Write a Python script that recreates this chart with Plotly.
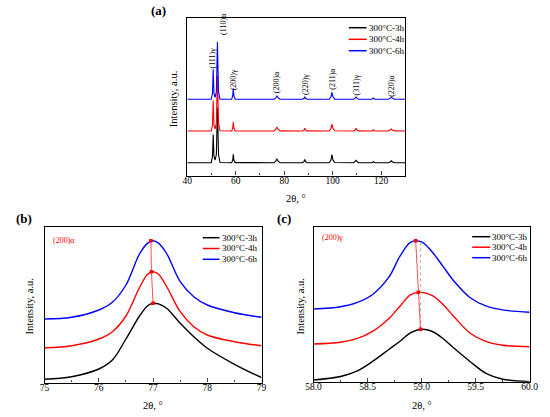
import plotly.graph_objects as go

W, H = 550, 417
FONT = "Liberation Serif, Times New Roman, serif"

# ---------------- Data: panel (a) full XRD patterns ----------------
series_names = ["300\u00b0C-3h", "300\u00b0C-4h", "300\u00b0C-6h"]
series_colors = ["#000000", "#ff0000", "#0000ff"]

tt_a = [40.0, 49.9, 50.4, 50.7, 51.0, 51.5, 52.0, 52.45, 52.9, 53.5,
        58.3, 58.75, 59.0, 59.25, 59.8, 75.8, 76.5, 77.0, 77.5, 78.3,
        87.6, 88.2, 88.5, 88.8, 89.4, 98.6, 99.3, 99.7, 100.1, 100.9,
        108.7, 109.3, 109.7, 110.1, 110.8, 116.2, 116.8, 117.4,
        123.1, 123.8, 124.2, 124.6, 125.4, 130.0]
a_3h = [12.8, 12.8, 19.0, 41.0, 19.5, 15.5, 21.0, 68.0, 21.0, 13.0,
        12.8, 15.2, 21.1, 15.2, 12.9, 12.8, 14.3, 16.4, 14.4, 12.9,
        12.8, 14.0, 16.1, 14.0, 12.9, 12.8, 15.4, 20.8, 15.6, 13.0,
        12.8, 13.8, 15.1, 13.8, 12.9, 12.8, 13.8, 12.8,
        12.8, 13.8, 14.8, 13.8, 12.9, 12.8]
a_4h = [44.5, 44.5, 50.5, 75.0, 50.5, 46.5, 52.5, 100.0, 52.5, 44.7,
        44.5, 47.2, 53.5, 47.2, 44.6, 44.5, 46.0, 48.5, 46.0, 44.6,
        44.5, 45.5, 47.2, 45.5, 44.6, 44.5, 46.9, 51.5, 47.1, 44.7,
        44.5, 45.5, 47.2, 45.5, 44.6, 44.5, 45.5, 44.5,
        44.5, 45.4, 46.5, 45.4, 44.6, 44.5]
a_6h = [76.2, 76.2, 82.0, 106.2, 82.0, 78.0, 84.0, 133.5, 84.0, 76.4,
        76.2, 79.5, 87.2, 79.5, 76.3, 76.2, 77.6, 79.8, 77.6, 76.3,
        76.2, 77.2, 78.8, 77.2, 76.3, 76.2, 78.6, 83.2, 78.8, 76.4,
        76.2, 77.1, 78.5, 77.1, 76.3, 76.2, 77.5, 76.2,
        76.2, 77.4, 78.5, 77.4, 76.3, 76.2]

peak_labels = ["(111)\u03b3", "(110)\u03b1", "(200)\u03b3", "(200)\u03b1",
               "(220)\u03b3", "(211)\u03b1", "(311)\u03b3", "(220)\u03b1"]
peak_label_x = [50.0, 54.7, 59.2, 76.9, 88.8, 99.6, 109.8, 124.0]
peak_label_y = [117.5, 151.5, 96.0, 93.0, 91.0, 96.5, 90.5, 89.5]

# ---------------- Data: panel (b) (200)alpha ----------------
tt_b = [75.0, 75.5, 76.0, 76.25, 76.5, 76.75, 76.9, 77.0, 77.1, 77.25, 77.5, 77.75, 78.0, 78.5, 79.0]
b_3h = [3.2, 5.8, 13.5, 22.5, 43.5, 66.5, 76.8, 79.2, 78.6, 74.2, 59.2, 45.8, 34.2, 18.2, 4.8]
b_4h = [34.8, 36.8, 43.5, 50.8, 66.5, 95.0, 108.3, 110.8, 108.3, 96.0, 70.8, 55.8, 47.5, 40.8, 36.8]
b_6h = [63.5, 65.2, 72.5, 80.2, 97.5, 128.5, 139.4, 141.8, 139.4, 129.0, 100.8, 85.8, 77.5, 69.8, 65.2]
b_peak_x = [77.0, 76.97, 76.96]
b_peak_y = [79.2, 110.8, 141.8]

# ---------------- Data: panel (c) (200)gamma ----------------
tt_c = [58.0, 58.25, 58.4, 58.55, 58.7, 58.8, 58.9, 59.0, 59.1, 59.2, 59.3, 59.45, 59.6, 59.75, 60.0]
c_3h = [1.7, 5.2, 10.5, 20.5, 32.5, 40.5, 49.0, 52.4, 50.2, 43.0, 33.5, 20.0, 8.0, 2.5, 0.0]
c_4h = [37.7, 39.4, 43.0, 50.5, 63.5, 75.5, 87.0, 89.3, 86.0, 77.0, 65.0, 48.5, 40.0, 36.5, 35.0]
c_6h = [72.7, 75.0, 79.0, 87.5, 105.0, 125.5, 139.5, 139.8, 129.5, 115.0, 100.5, 84.0, 75.5, 71.8, 69.4]
c_peak_x = [58.99, 58.97, 58.945]
c_peak_y = [52.4, 89.4, 141.0]
c_ref_x = [58.99, 58.99]
c_ref_y = [52.4, 141.0]


def px(x):
    return x / W


def py(y):
    return 1 - y / H


fig = go.Figure()

# panel (a)
for ys, c, n in zip([a_3h, a_4h, a_6h], series_colors, series_names):
    fig.add_trace(go.Scatter(x=tt_a, y=ys, mode="lines", line=dict(color=c, width=1.1),
                             name=n, xaxis="x", yaxis="y", showlegend=False))
# panel (b)
for ys, c, n in zip([b_3h, b_4h, b_6h], series_colors, series_names):
    fig.add_trace(go.Scatter(x=tt_b, y=ys, mode="lines", line=dict(color=c, width=1.4, shape="spline"),
                             name=n, xaxis="x2", yaxis="y2", showlegend=False))
fig.add_trace(go.Scatter(x=b_peak_x, y=b_peak_y, mode="lines+markers",
                         line=dict(color="#ff5050", width=1),
                         marker=dict(color="#ff0000", size=3.5, symbol="square"),
                         xaxis="x2", yaxis="y2", showlegend=False))
# panel (c)
for ys, c, n in zip([c_3h, c_4h, c_6h], series_colors, series_names):
    fig.add_trace(go.Scatter(x=tt_c, y=ys, mode="lines", line=dict(color=c, width=1.4, shape="spline"),
                             name=n, xaxis="x3", yaxis="y3", showlegend=False))
fig.add_trace(go.Scatter(x=c_ref_x, y=c_ref_y, mode="lines",
                         line=dict(color="#b0b0b0", width=1, dash="dot"),
                         xaxis="x3", yaxis="y3", showlegend=False))
fig.add_trace(go.Scatter(x=c_peak_x, y=c_peak_y, mode="lines+markers",
                         line=dict(color="#ff5050", width=1),
                         marker=dict(color="#ff0000", size=3.5, symbol="square"),
                         xaxis="x3", yaxis="y3", showlegend=False))

axis_common = dict(showline=True, mirror=True, linecolor="black", linewidth=1.2,
                   showgrid=False, zeroline=False)
tickfont = dict(family=FONT, size=9.5, color="black")
xtick_common = dict(ticks="inside", ticklen=4, tickwidth=1, tickfont=tickfont,
                    ticklabelstandoff=-4)

fig.update_layout(
    width=W, height=H, margin=dict(l=0, r=0, t=0, b=0),
    paper_bgcolor="white", plot_bgcolor="white", showlegend=False,
    font=dict(family=FONT, color="black"),
    xaxis=dict(domain=[px(185), px(410)], range=[40, 130], anchor="y",
               tick0=40, dtick=20,
               minor=dict(dtick=10, ticks="inside", ticklen=2, tickwidth=1, showgrid=False),
               **xtick_common, **axis_common),
    yaxis=dict(domain=[py(175.5), py(18.3)], range=[0, 157.2], anchor="x",
               showticklabels=False, ticks="", **axis_common),
    xaxis2=dict(domain=[px(37.7), px(261.7)], range=[75, 79], anchor="y2",
                tick0=75, dtick=1,
                minor=dict(dtick=0.5, ticks="inside", ticklen=2, tickwidth=1, showgrid=False),
                **xtick_common, **axis_common),
    yaxis2=dict(domain=[py(382.5), py(227.3)], range=[0, 155.2], anchor="x2",
                showticklabels=False, ticks="", **axis_common),
    xaxis3=dict(domain=[px(315.3), px(538.3)], range=[58, 60], anchor="y3",
                tick0=58, dtick=0.5, tickformat=".1f",
                minor=dict(dtick=0.25, ticks="inside", ticklen=2, tickwidth=1, showgrid=False),
                **xtick_common, **axis_common),
    yaxis3=dict(domain=[py(381.7), py(226.7)], range=[0, 155.0], anchor="x3",
                showticklabels=False, ticks="", **axis_common),
)

ann = []
shapes = []

# peak labels panel (a)
for t, x, y in zip(peak_labels, peak_label_x, peak_label_y):
    ann.append(dict(x=x, y=y, xref="x", yref="y", text=t, textangle=-90, showarrow=False,
                    xanchor="center", yanchor="middle",
                    font=dict(family=FONT, size=8, color="black")))


def text_at(xc, yc, t, size, angle=0, color="black", xanchor="center"):
    ann.append(dict(x=px(xc), y=py(yc), xref="paper", yref="paper", text=t,
                    textangle=angle, showarrow=False, xanchor=xanchor, yanchor="middle",
                    font=dict(family=FONT, size=size, color=color)))


# axis titles
for xc, yc in [(297.5, 198.5), (149.7, 405.5), (427, 405)]:
    text_at(xc, yc, "2\u03b8, \u00b0", 10.5)
for xc, yc in [(171.5, 99), (21.7, 306.5), (300.8, 307)]:
    text_at(xc, yc, "Intensity, a.u.", 10.5, angle=-90)

# panel letters
for t, x, y in [("(a)", 155, 11), ("(b)", 16, 218), ("(c)", 285, 219)]:
    text_at(x, y, "<b>%s</b>" % t, 13)

# inner red labels
text_at(57.5, 240, "(200)\u03b1", 8, color="#ff0000")
text_at(335, 237.7, "(200)\u03b3", 8, color="#ff0000")


# custom legends
def legend(x0, x1, xt, rows):
    for yrow, c, n in zip(rows, series_colors, series_names):
        shapes.append(dict(type="line", xref="paper", yref="paper", x0=px(x0), x1=px(x1),
                           y0=py(yrow), y1=py(yrow), line=dict(color=c, width=1.5)))
        text_at(xt, yrow, n, 9, xanchor="left")


legend(351.7, 370, 370, [27.7, 39.3, 50.7])
legend(201, 218.3, 218.5, [237.7, 248.5, 259.3])
legend(479, 497.7, 497.5, [236.7, 247.2, 257.7])

fig.update_layout(annotations=ann, shapes=shapes)
fig.write_html(
    "out.html",
    config={"responsive": False, "displayModeBar": False},
    post_script="document.body.style.margin='0px';document.body.style.overflow='hidden';",
)
